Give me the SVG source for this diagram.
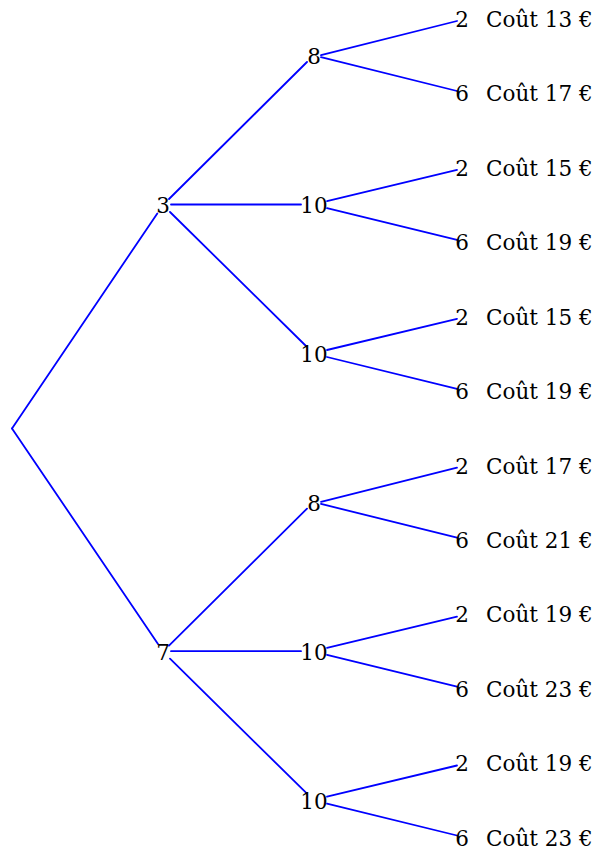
<svg xmlns="http://www.w3.org/2000/svg" width="596" height="850" viewBox="0 0 596 850">
<style>
text{font-family:"DejaVu Serif","Liberation Serif",serif;font-size:21.5px;fill:#000}
.n{text-anchor:middle}
.e line{stroke:#0000ff;stroke-width:1.8;stroke-linecap:round}
</style>
<rect width="596" height="850" fill="#fff"/>
<g id="connectors" class="e">
<line x1="12" y1="428.4" x2="157.3" y2="213.4"/>
<line x1="12" y1="428.4" x2="158" y2="644"/>
<line x1="169" y1="199" x2="307" y2="62"/>
<line x1="171" y1="204.5" x2="301" y2="204.5"/>
<line x1="170" y1="212" x2="306" y2="346"/>
<line x1="169" y1="645.7" x2="307" y2="508.7"/>
<line x1="171" y1="651.2" x2="301" y2="651.2"/>
<line x1="170" y1="658.7" x2="306" y2="792.7"/>
<line x1="321" y1="55.2" x2="457" y2="21"/>
<line x1="321" y1="57.2" x2="457" y2="91"/>
<line x1="327" y1="201.1" x2="457" y2="169.9"/>
<line x1="327" y1="208.1" x2="457" y2="239.9"/>
<line x1="327" y1="350" x2="457" y2="318.8"/>
<line x1="327" y1="357" x2="457" y2="388.8"/>
<line x1="321" y1="501.9" x2="457" y2="467.7"/>
<line x1="321" y1="503.9" x2="457" y2="537.7"/>
<line x1="327" y1="647.8" x2="457" y2="616.6"/>
<line x1="327" y1="654.8" x2="457" y2="686.6"/>
<line x1="327" y1="796.7" x2="457" y2="765.5"/>
<line x1="327" y1="803.7" x2="457" y2="835.5"/>
</g>
<g id="root"/>
<g id="n3"><text class="n" x="163" y="212.9">3</text></g>
<g id="n7"><text class="n" x="163" y="659.6">7</text></g>
<g id="n8a"><text class="n" x="314" y="64">8</text></g>
<g id="n10a"><text class="n" x="314" y="212.9">10</text></g>
<g id="n10b"><text class="n" x="314" y="361.8">10</text></g>
<g id="n8b"><text class="n" x="314" y="510.7">8</text></g>
<g id="n10c"><text class="n" x="314" y="659.6">10</text></g>
<g id="n10d"><text class="n" x="314" y="808.5">10</text></g>
<g id="l1"><text class="n" x="462" y="26.8">2</text><text x="486" y="26.8">Coût 13 €</text></g>
<g id="l2"><text class="n" x="462" y="101.25">6</text><text x="486" y="101.25">Coût 17 €</text></g>
<g id="l3"><text class="n" x="462" y="175.7">2</text><text x="486" y="175.7">Coût 15 €</text></g>
<g id="l4"><text class="n" x="462" y="250.15">6</text><text x="486" y="250.15">Coût 19 €</text></g>
<g id="l5"><text class="n" x="462" y="324.6">2</text><text x="486" y="324.6">Coût 15 €</text></g>
<g id="l6"><text class="n" x="462" y="399.05">6</text><text x="486" y="399.05">Coût 19 €</text></g>
<g id="l7"><text class="n" x="462" y="473.5">2</text><text x="486" y="473.5">Coût 17 €</text></g>
<g id="l8"><text class="n" x="462" y="547.95">6</text><text x="486" y="547.95">Coût 21 €</text></g>
<g id="l9"><text class="n" x="462" y="622.4">2</text><text x="486" y="622.4">Coût 19 €</text></g>
<g id="l10"><text class="n" x="462" y="696.85">6</text><text x="486" y="696.85">Coût 23 €</text></g>
<g id="l11"><text class="n" x="462" y="771.3">2</text><text x="486" y="771.3">Coût 19 €</text></g>
<g id="l12"><text class="n" x="462" y="845.75">6</text><text x="486" y="845.75">Coût 23 €</text></g>
</svg>
